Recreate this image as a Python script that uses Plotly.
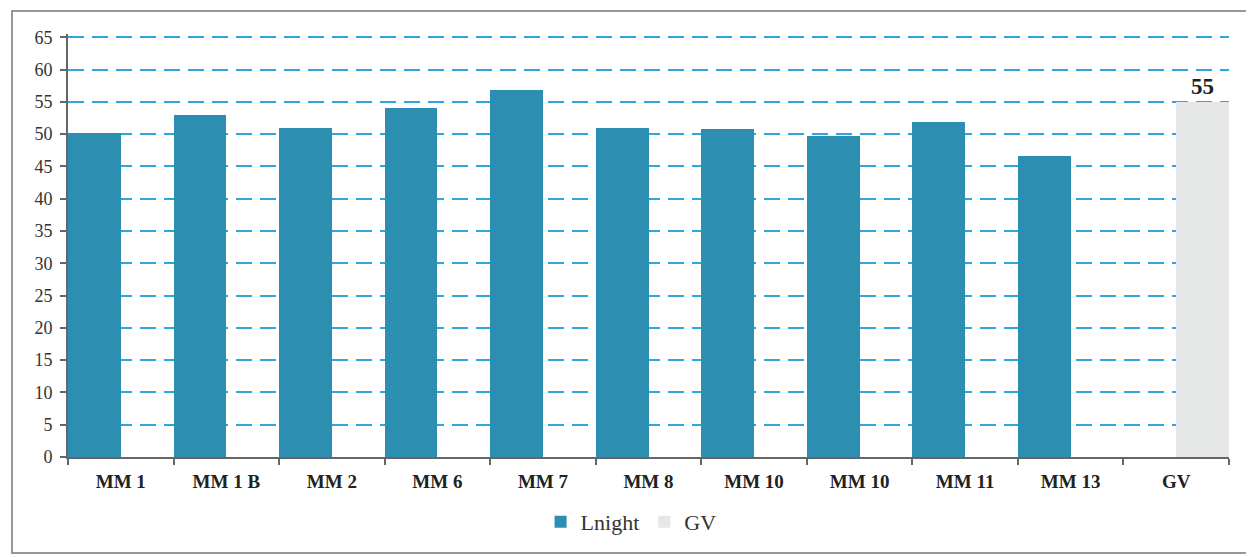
import plotly.graph_objects as go

categories = ["MM 1", "MM 1 B", "MM 2", "MM 6", "MM 7", "MM 8", "MM 10", "MM 10 ", "MM 11", "MM 13", "GV"]
tick_labels = ["MM 1", "MM 1 B", "MM 2", "MM 6", "MM 7", "MM 8", "MM 10", "MM 10", "MM 11", "MM 13", "GV"]
lnight = [50.1, 52.9, 50.9, 54.0, 56.8, 51.0, 50.8, 49.7, 51.9, 46.6, None]
gv = [None, None, None, None, None, None, None, None, None, None, 55]
gv_text = ["", "", "", "", "", "", "", "", "", "", "<b>55</b>"]

# page body has an 8px margin; work in window coordinates and subtract it
O = 8
W, H = 1254 - O, 557 - O
plot_l, plot_r, plot_t, plot_b = 68 - O, 1229 - O, 34 - O, 457 - O
ml, mr, mt, mb = plot_l, W - plot_r, plot_t, H - plot_b

fig = go.Figure()
fig.add_trace(go.Bar(
    name="Lnight", x=categories, y=lnight,
    marker=dict(color="#2c8fb1", line=dict(width=0)),
))
fig.add_trace(go.Bar(
    name="GV", x=categories, y=gv, text=gv_text, textposition="outside",
    textfont=dict(family="Liberation Serif", size=23, color="#222222"),
    marker=dict(color="#e6e8e8", line=dict(width=0)),
    cliponaxis=False,
))

pw = W - ml - mr
ph = H - mt - mb

fig.update_layout(
    width=W, height=H,
    margin=dict(l=ml, r=mr, t=mt, b=mb, autoexpand=False),
    paper_bgcolor="white", plot_bgcolor="white",
    barmode="group", bargap=0, bargroupgap=0,
    font=dict(family="Liberation Serif", color="#333333"),
    legend=dict(orientation="h", x=0.485, xanchor="center", y=(plot_b - (522 - O)) / ph, yanchor="middle",
                font=dict(family="Liberation Serif", size=22, color="#333333"),
                traceorder="normal", itemwidth=30),
    xaxis=dict(
        tickmode="array", tickvals=categories, ticktext=["<b>%s</b>" % t for t in tick_labels],
        tickfont=dict(family="Liberation Serif", size=19, color="#222222"),
        showline=True, linecolor="#666666", linewidth=2,
        ticks="outside", tickson="boundaries", ticklen=6, tickcolor="#666666", tickwidth=1.5,
        ticklabelstandoff=6, showgrid=False,
    ),
    yaxis=dict(
        range=[0, 65.5], tickmode="array", tickvals=list(range(0, 70, 5)),
        tickfont=dict(family="Liberation Serif", size=18, color="#333333"),
        showline=True, linecolor="#666666", linewidth=2,
        ticks="outside", ticklen=6, tickcolor="#666666", tickwidth=1.5,
        showgrid=True, gridcolor="#2aa8df", gridwidth=2, griddash="16px,8px",
        zeroline=False, ticklabelstandoff=4,
    ),
    shapes=[dict(
        type="rect", xref="paper", yref="paper",
        x0=(12 - O - ml) / pw, x1=(1251 - O - ml) / pw,
        y0=(plot_b - (553 - O)) / ph, y1=(plot_b - (11 - O)) / ph,
        line=dict(color="#777777", width=1.5), fillcolor="rgba(0,0,0,0)", layer="below",
    )],
)

fig.write_html("out.html")
